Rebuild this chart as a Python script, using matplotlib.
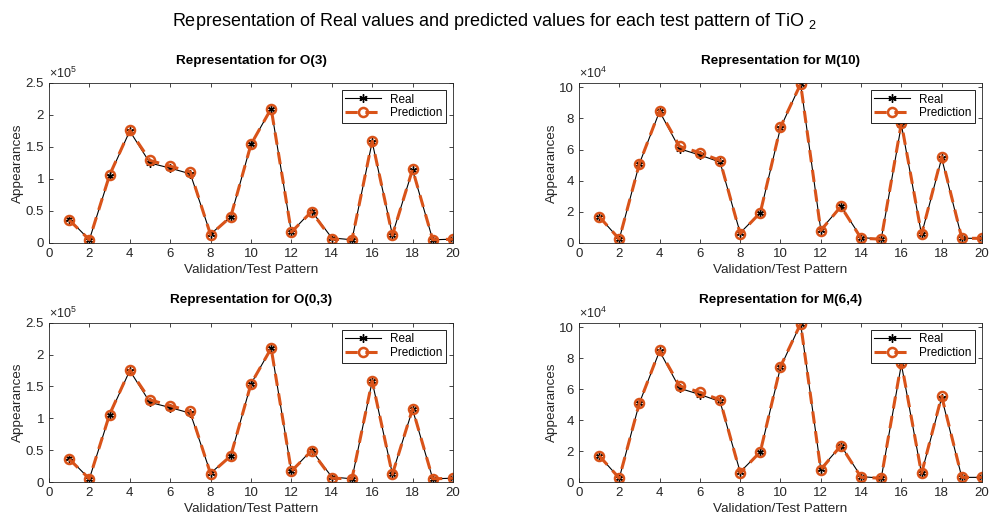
import matplotlib
matplotlib.use("Agg")
import matplotlib.pyplot as plt
from matplotlib.ticker import FuncFormatter

# font setup (Helvetica-like)
plt.rcParams['font.family'] = ['Liberation Sans', 'DejaVu Sans']
plt.rcParams['mathtext.fontset'] = 'custom'
plt.rcParams['mathtext.rm'] = 'Liberation Sans'
plt.rcParams['mathtext.it'] = 'Liberation Sans:italic'

# test patterns
patterns = list(range(1, 21))

# O(3) and O(0,3), in units of 1e5
o_real = [0.37, 0.05, 1.05, 1.75, 1.25, 1.17, 1.08, 0.14, 0.41, 1.54,
          2.10, 0.17, 0.50, 0.08, 0.05, 1.58, 0.13, 1.14, 0.05, 0.06]
o_pred = [0.36, 0.05, 1.06, 1.76, 1.29, 1.20, 1.11, 0.13, 0.41, 1.54,
          2.10, 0.17, 0.49, 0.06, 0.05, 1.59, 0.12, 1.15, 0.05, 0.06]

# M(10) and M(6,4), in units of 1e4
m_real = [1.70, 0.25, 5.10, 8.45, 6.05, 5.65, 5.20, 0.65, 1.95, 7.40,
          10.22, 0.85, 2.35, 0.35, 0.25, 7.60, 0.55, 5.45, 0.30, 0.30]
m_pred = [1.70, 0.25, 5.10, 8.50, 6.20, 5.80, 5.30, 0.60, 1.95, 7.45,
          10.22, 0.80, 2.35, 0.30, 0.25, 7.70, 0.55, 5.55, 0.30, 0.30]

titles = ['Representation for O(3)', 'Representation for M(10)',
          'Representation for O(0,3)', 'Representation for M(6,4)']

orange = '#D95319'
grey = '#262626'

fig = plt.figure(figsize=(9.89, 5.22), dpi=100)
positions = [[0.0495, 0.5345, 0.4085, 0.3065], [0.5854, 0.5345, 0.4075, 0.3065],
             [0.0495, 0.0766, 0.4085, 0.3050], [0.5854, 0.0766, 0.4075, 0.3050]]

for i in range(4):
    ax = fig.add_axes(positions[i])
    if i % 2 == 0:
        real = [v * 1e5 for v in o_real]
        pred = [v * 1e5 for v in o_pred]
        ax.set_ylim(0, 2.5e5)
        ax.set_yticks([0, 0.5e5, 1e5, 1.5e5, 2e5, 2.5e5])
        power = 5
    else:
        real = [v * 1e4 for v in m_real]
        pred = [v * 1e4 for v in m_pred]
        ax.set_ylim(0, 1.028e5)
        ax.set_yticks([0, 2e4, 4e4, 6e4, 8e4, 10e4])
        power = 4

    ax.plot(patterns, real, '-', marker=(6, 2, 0), color='black', lw=0.8,
            ms=6, mew=1.0, label='Real')
    ax.plot(patterns, pred, '--o', color=orange, lw=2.2, ms=6.5, mew=1.8,
            mfc='none', dashes=(4, 2.5), label='Prediction')

    ax.set_xlim(0, 20)
    ax.set_xticks(range(0, 21, 2))

    ax.yaxis.set_major_formatter(FuncFormatter(lambda v, p, pw=power: '%g' % (v / 10 ** pw)))
    ax.text(0.0, 1.012, r'$\times10^{%d}$' % power, transform=ax.transAxes,
            fontsize=9, color=grey, ha='left', va='bottom')

    ax.tick_params(direction='in', top=True, right=True, labelsize=9.5,
                   colors=grey, length=3, width=0.6)
    for s in ax.spines.values():
        s.set_color(grey)
        s.set_linewidth(0.6)

    ax.set_title(titles[i], fontsize=9.7, fontweight='bold', pad=14)
    ax.set_xlabel('Validation/Test Pattern', fontsize=9.7, color=grey, labelpad=3)
    ax.set_ylabel('Appearances', fontsize=9.7, color=grey, labelpad=1)

    leg = ax.legend(loc='upper right', fontsize=8.5, fancybox=False,
                    edgecolor='black', framealpha=1, borderpad=0.3,
                    handlelength=3.0, labelspacing=0.15, borderaxespad=0.6)
    leg.get_frame().set_linewidth(0.6)

fig.suptitle('Representation of Real values and predicted values for each test pattern of TiO $_{2}$',
             fontsize=13, y=0.978)

plt.savefig('out.png', dpi=100)
